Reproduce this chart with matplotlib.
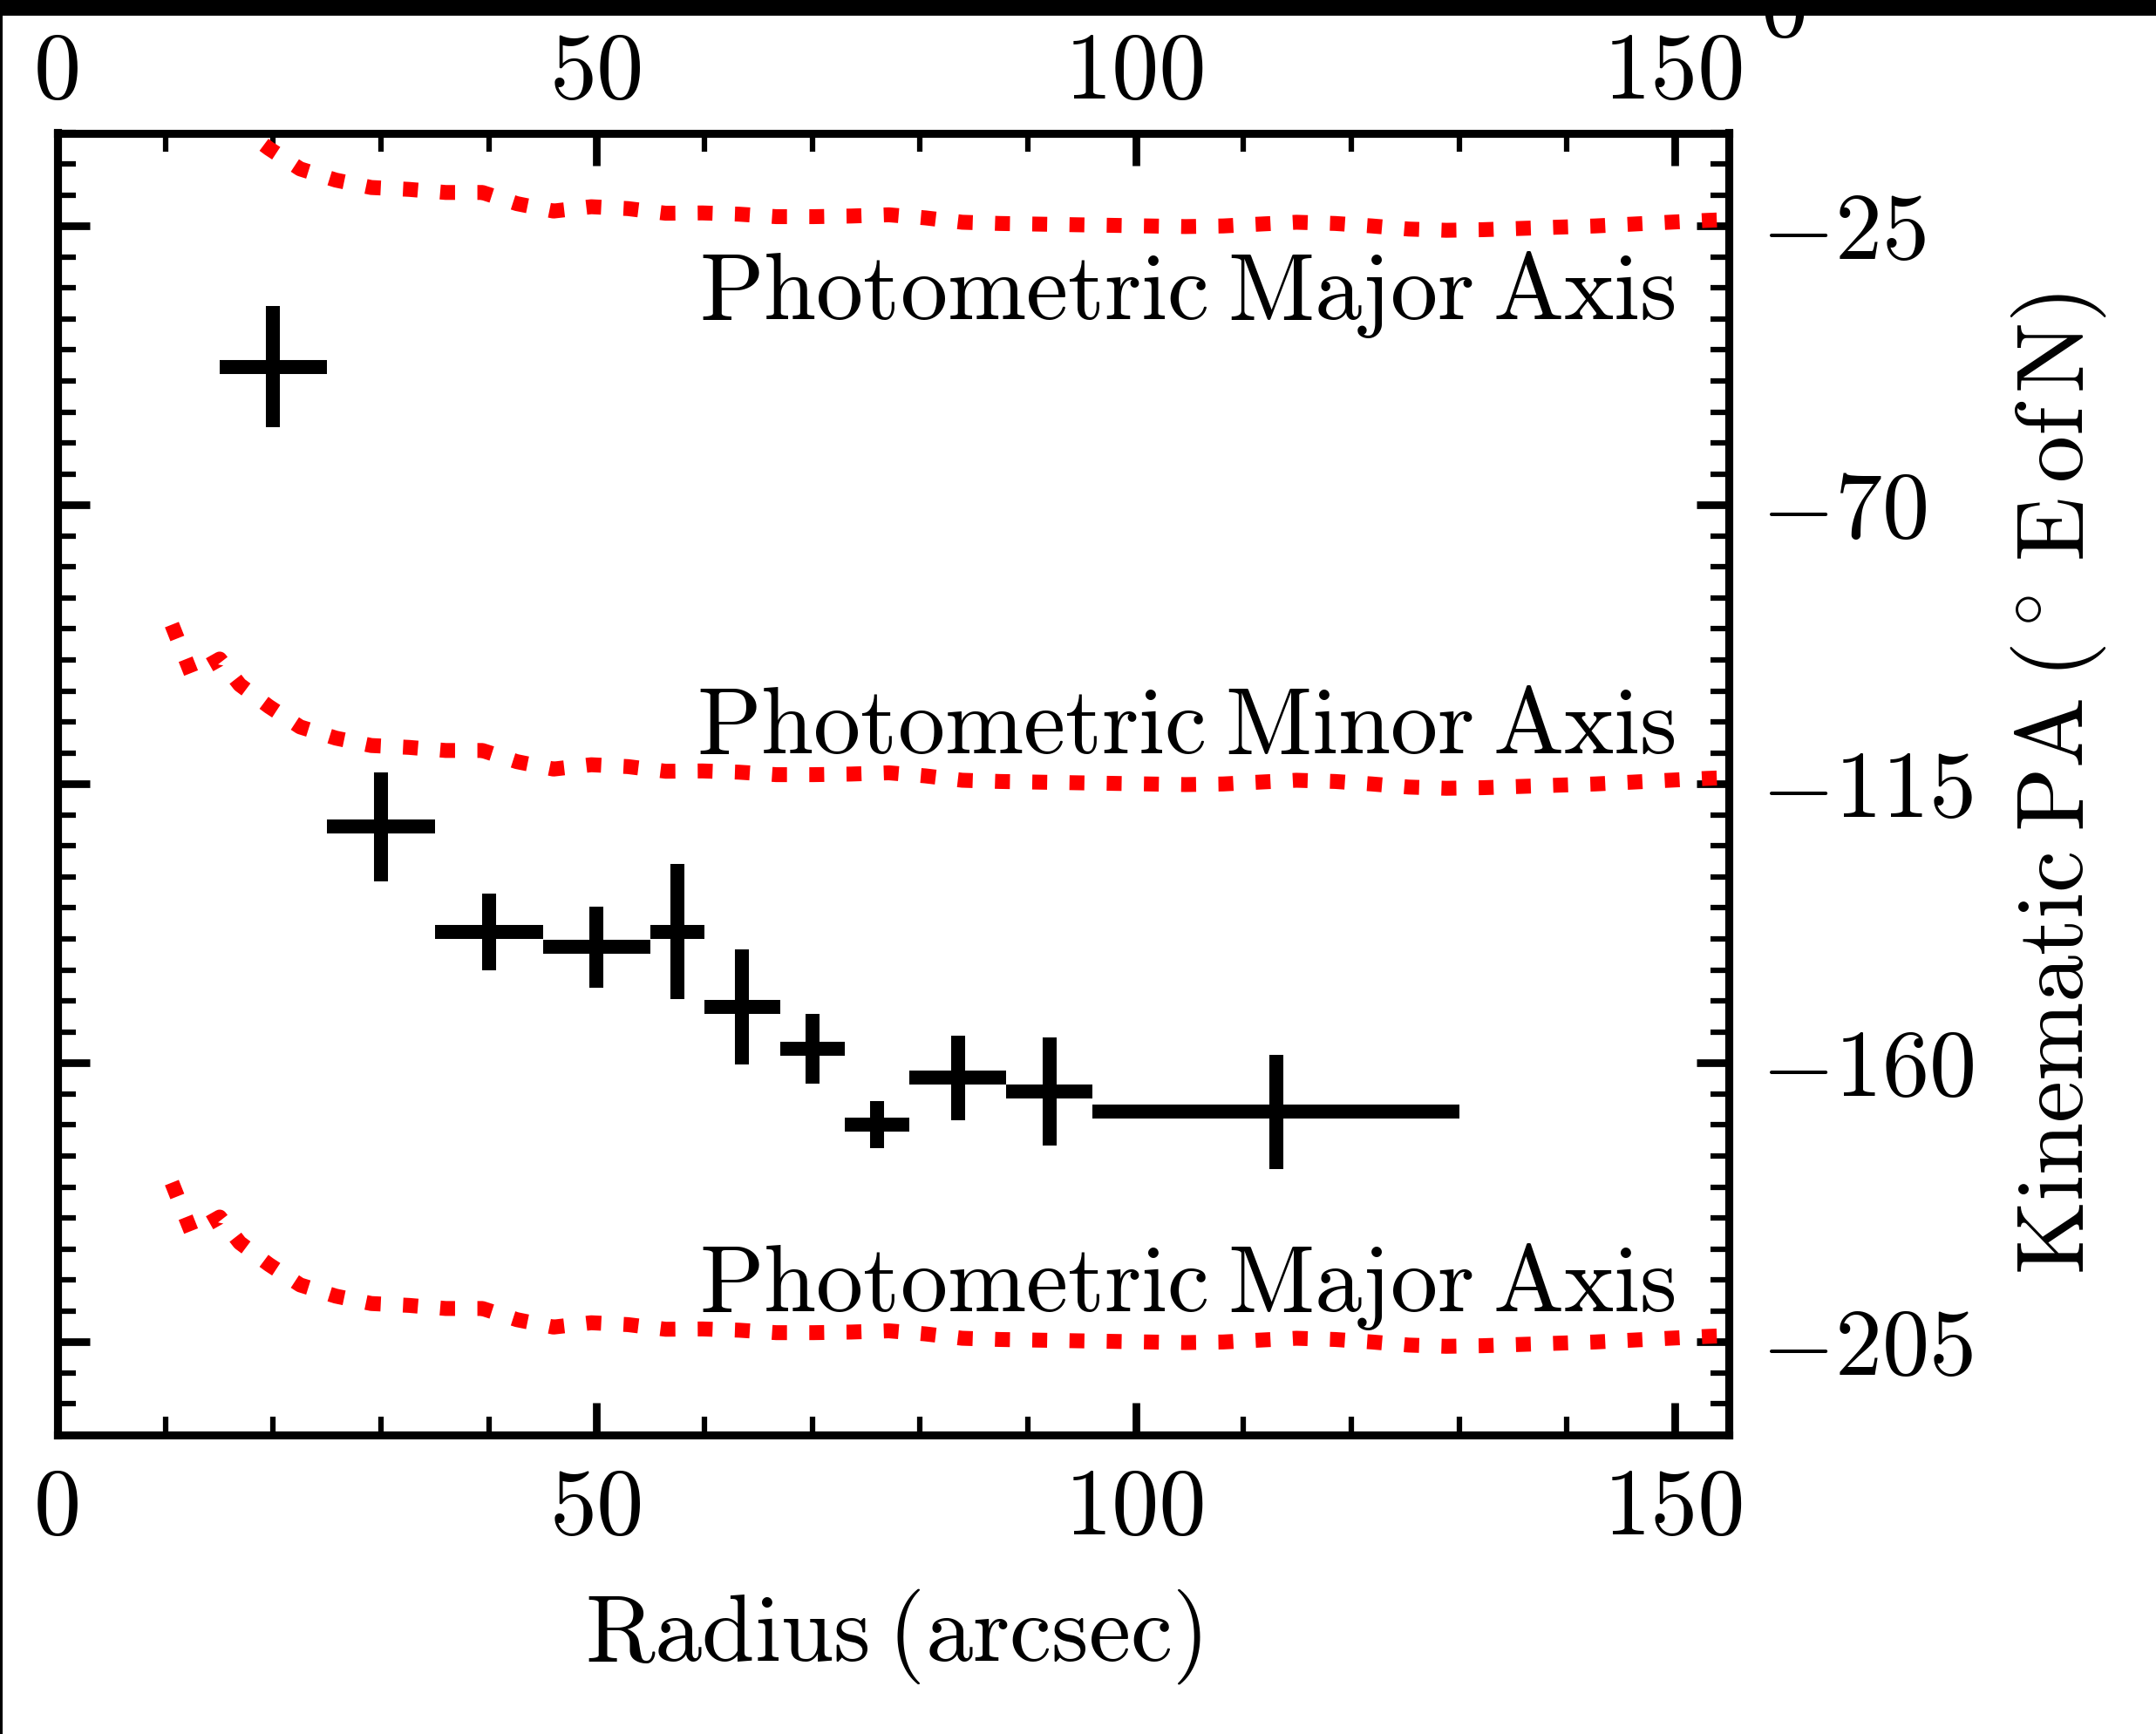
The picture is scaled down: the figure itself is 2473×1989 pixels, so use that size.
import matplotlib
matplotlib.use("Agg")
import matplotlib.pyplot as plt
from matplotlib.patches import Rectangle
from matplotlib.ticker import MultipleLocator
import numpy as np

# Kinematic position angle measurements in radial bins
radius = [20, 30, 40, 50, 57.5, 63.5, 70, 76, 83.5, 92, 113]
radius_err = [5, 5, 5, 5, 2.5, 3.5, 3, 3, 4.5, 4, 17]
kin_pa = [-47.7, -121.9, -138.9, -141.3, -138.8, -151.0, -157.7, -169.9, -162.4, -164.6, -167.9]
kin_pa_err = [9.8, 8.8, 6.2, 6.5, 10.9, 9.3, 5.6, 3.8, 6.8, 8.7, 9.2]

# Photometric major-axis position angle profile
phot_r = [10.6, 12.45, 15.04, 16.9, 19.6, 22.5, 25.8, 29.1, 32.6, 36.0, 39.4, 42.6, 46.0,
          49.5, 52.9, 56.4, 59.8, 63.2, 66.65, 70.1, 73.6, 77.1, 80.5, 83.9, 87.4,
          90.8, 94.2, 97.7, 101.2, 104.6, 108.1, 111.5, 114.9, 118.5, 121.9, 125.3,
          128.8, 132.2, 135.65, 139.1, 142.6, 146.1, 149.5, 153.0, 156.0]
phot_pa = [0.7, -7.4, -4.85, -9.0, -12.5, -15.8, -17.6, -18.8, -19.1, -19.6, -19.6, -21.4, -22.6,
           -21.9, -22.2, -22.95, -22.9, -23.1, -23.5, -23.5, -23.4, -23.2, -23.7, -24.4, -24.6,
           -24.7, -24.8, -24.9, -25.0, -25.1, -25.0, -24.7, -24.4, -24.6, -25.0, -25.5,
           -25.7, -25.6, -25.4, -25.2, -25.0, -24.7, -24.4, -24.1, -23.9]
phot_offsets = [0, -90, -180]
phot_labels = ["Photometric Major Axis", "Photometric Minor Axis", "Photometric Major Axis"]
label_pa = [-40, -110, -200]

xticks = [0, 50, 100, 150]
yticks = [-205, -160, -115, -70, -25]


def roman(s, space=r"\:"):
    """Upright Computer Modern text with TeX-like interword spacing."""
    return r"$\mathrm{" + s.replace(" ", space) + "}$"


plt.rcParams.update({
    "font.family": "serif",
    "font.serif": ["cmr10"],
    "mathtext.fontset": "cm",
    "axes.unicode_minus": False,
    "font.size": 26,
})

W, H, DPI = 2473, 1989, 300
fig = plt.figure(figsize=(W / DPI, H / DPI), dpi=DPI)
ax = fig.add_axes([66 / W, 1 - 1646 / H, (1983 - 66) / W, (1646 - 152.5) / H])

for off in phot_offsets:
    ax.plot(phot_r, np.array(phot_pa) + off, color="red", lw=4.1,
            linestyle=(0, (1, 1.5)))

ax.errorbar(radius, kin_pa, xerr=radius_err, yerr=kin_pa_err, fmt="none",
            ecolor="black", elinewidth=3.85, capsize=0)

for txt, yv in zip(phot_labels, label_pa):
    ax.text(150, yv, roman(txt), ha="right", va="baseline", fontsize=26)

ax.set_xlim(0, 155)
ax.set_ylim(-220, -10)
ax.set_xticks(xticks)
ax.set_xticklabels([str(v) for v in xticks])
ax.set_yticks(yticks)
ax.set_yticklabels([r"$%d$" % v for v in yticks])
ax.xaxis.set_minor_locator(MultipleLocator(10))
ax.yaxis.set_minor_locator(MultipleLocator(5))

ax.tick_params(which="both", direction="in", top=True, bottom=True, left=True, right=True,
               labelleft=False, labelright=True, labeltop=False, labelbottom=True,
               labelsize=26)
ax.tick_params(which="major", length=8.9, width=2.1, pad=9)
ax.tick_params(which="minor", length=5.0, width=1.5)
for sp in ax.spines.values():
    sp.set_linewidth(2.2)

# radius labels repeated along the top edge
top = ax.secondary_xaxis("top")
top.set_xticks(xticks)
top.set_xticklabels([str(v) for v in xticks])
top.tick_params(which="both", length=0, pad=4.4, labelsize=26)
top.xaxis.set_minor_locator(MultipleLocator(10))
top.spines["top"].set_visible(False)

ax.set_xlabel(roman("Radius (arcsec)"), fontsize=26, labelpad=9.5)
ax.yaxis.set_label_position("right")
ax.set_ylabel(r"$\mathrm{Kinematic\:PA\:(^\circ\,E\,of\,N)}$", fontsize=26, labelpad=9.5)

# stray tick label and frame edges along the top and left borders
fig.text(2047 / W, 1 - 42 / H, "0", ha="center", va="baseline", fontsize=26)
fig.patches.append(Rectangle((0, 1 - 17.7 / H), 1, 17.7 / H, transform=fig.transFigure,
                             facecolor="black", edgecolor="none", zorder=10))
fig.patches.append(Rectangle((0, 0), 3 / W, 1, transform=fig.transFigure,
                             facecolor="black", edgecolor="none", zorder=10))

fig.savefig("out.png", dpi=DPI)
